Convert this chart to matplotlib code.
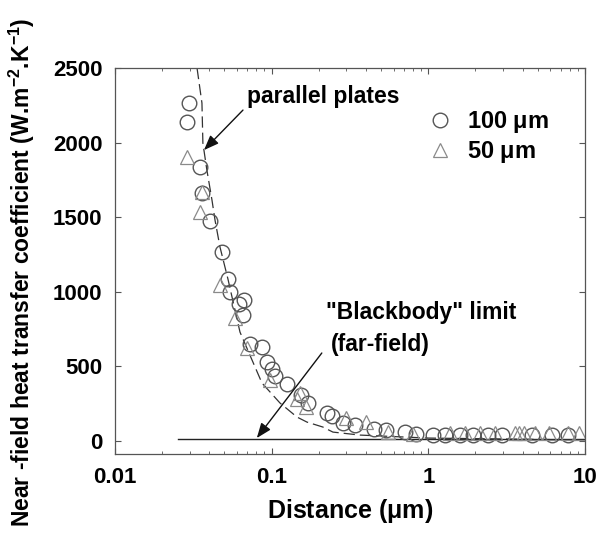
import numpy as np
import matplotlib.pyplot as plt
from matplotlib.ticker import LogLocator, FixedLocator

plt.rcParams['font.family'] = ['Liberation Sans', 'DejaVu Sans']
plt.rcParams['mathtext.fontset'] = 'custom'
plt.rcParams['mathtext.rm'] = 'Liberation Sans:bold'
plt.rcParams['mathtext.it'] = 'Liberation Sans:bold'
plt.rcParams['mathtext.bf'] = 'Liberation Sans:bold'

# measured points, 100 um gap
d_100 = [0.0296, 0.0288, 0.0348, 0.036, 0.0404, 0.048, 0.0526, 0.054, 0.0666,
         0.062, 0.0655, 0.0727, 0.0867, 0.093, 0.100, 0.105, 0.125, 0.154,
         0.170, 0.225, 0.242, 0.285, 0.34, 0.45, 0.54, 0.71, 0.84, 1.07, 1.27,
         1.59, 1.92, 2.41, 2.96, 4.56, 6.2, 7.8]
h_100 = [2265, 2138, 1836, 1662, 1474, 1267, 1086, 999, 945,
         918, 844, 650, 630, 529, 483, 435, 380, 308,
         255, 188, 168, 121, 107, 80, 74, 60, 47, 40, 40,
         40, 40, 40, 40, 40, 40, 40]

# measured points, 50 um gap
d_50 = [0.029, 0.0358, 0.035, 0.0467, 0.058, 0.0696, 0.0975, 0.145, 0.152,
        0.165, 0.30, 0.40, 0.55, 0.80, 1.37, 1.71, 2.14, 2.68, 3.6, 3.8, 4.1,
        4.8, 5.9, 7.8, 9.1]
h_50 = [1903, 1669, 1535, 1046, 824, 623, 409, 280, 322,
        228, 154, 127, 60, 50, 54, 54, 54, 54, 54, 54, 54,
        54, 54, 54, 54]

# parallel plates prediction
d_pp = [0.0334, 0.0359, 0.0364, 0.0386, 0.0416, 0.0435, 0.0468, 0.0526,
        0.0628, 0.0867, 0.113, 0.145, 0.168, 0.212, 0.246, 0.366, 0.99, 10.0]
h_pp = [2500, 2265, 1997, 1816, 1615, 1481, 1300, 1086,
        730, 389, 255, 161, 127, 94, 60, 40, 20, 7]

# far-field blackbody level
d_bb = [0.0253, 10.0]
h_bb = [15, 15]

fig = plt.figure(figsize=(6.01, 5.44), dpi=100)
ax = fig.add_axes([0.1913, 0.1654, 0.7821, 0.7096])

ax.plot(d_pp, h_pp, color='#333333', lw=0.9, ls=(0, (9, 4)))
ax.plot(d_bb, h_bb, color='#222222', lw=1.0)
ax.plot(d_100, h_100, ls='none', marker='o', ms=10.5, mfc='none',
        mec='#555555', mew=1.0)
ax.plot(d_50, h_50, ls='none', marker='^', ms=10.5, mfc='none',
        mec='#8a8a8a', mew=0.9)

ax.set_xscale('log')
ax.set_xlim(0.01, 10)
ax.set_ylim(-87, 2500)
ax.xaxis.set_major_locator(FixedLocator([0.01, 0.1, 1, 10]))
ax.set_xticklabels(['0.01', '0.1', '1', '10'])
ax.xaxis.set_minor_locator(LogLocator(base=10, subs=np.arange(2, 10)))
ax.set_yticks([0, 500, 1000, 1500, 2000, 2500])

for s in ax.spines.values():
    s.set_color('#555555')
    s.set_linewidth(0.9)
ax.tick_params(which='both', direction='in', top=True, right=True,
               color='#555555')
ax.tick_params(which='major', length=4, labelsize=16, pad=9)
ax.tick_params(which='minor', length=2.5)
for lb in ax.get_xticklabels() + ax.get_yticklabels():
    lb.set_fontweight('bold')

ax.set_xlabel('Distance ($\\mu$m)', fontsize=18, fontweight='bold', labelpad=7)
fig.text(0.036, 0.50,
         'Near -field heat transfer coefficient (W.m$^{-2}$.K$^{-1}$)',
         rotation=90, ha='center', va='center', fontsize=16.5,
         fontweight='bold')

# hand-placed legend
fig.text(467 / 601, 1 - 122 / 544, '100 $\\mu$m', fontsize=17,
         fontweight='bold', va='center')
fig.text(467 / 601, 1 - 152 / 544, '50 $\\mu$m', fontsize=17,
         fontweight='bold', va='center')
fig.lines.append(plt.Line2D([440 / 601], [1 - 120 / 544], marker='o', ms=10.5,
                            mfc='none', mec='#555555', mew=1.0,
                            transform=fig.transFigure))
fig.lines.append(plt.Line2D([440 / 601], [1 - 150 / 544], marker='^', ms=10.5,
                            mfc='none', mec='#8a8a8a', mew=0.9,
                            transform=fig.transFigure))

arrow = dict(arrowstyle='-|>,head_length=0.9,head_width=0.35', color='#111111',
             lw=1.0, shrinkA=0, shrinkB=0)
ax.annotate('', xy=(0.037, 1950), xytext=(0.0656, 2218), arrowprops=arrow)
fig.text(247 / 601, 1 - 97 / 544, 'parallel plates', fontsize=16.5,
         fontweight='bold', va='center')

ax.annotate('', xy=(0.0804, 20), xytext=(0.209, 590), arrowprops=arrow)
fig.text(326 / 601, 1 - 313 / 544, '"Blackbody" limit', fontsize=16.5,
         fontweight='bold', va='center')
fig.text(331 / 601, 1 - 344 / 544, '(far-field)', fontsize=16.5,
         fontweight='bold', va='center')

fig.savefig('out.png', dpi=100)
